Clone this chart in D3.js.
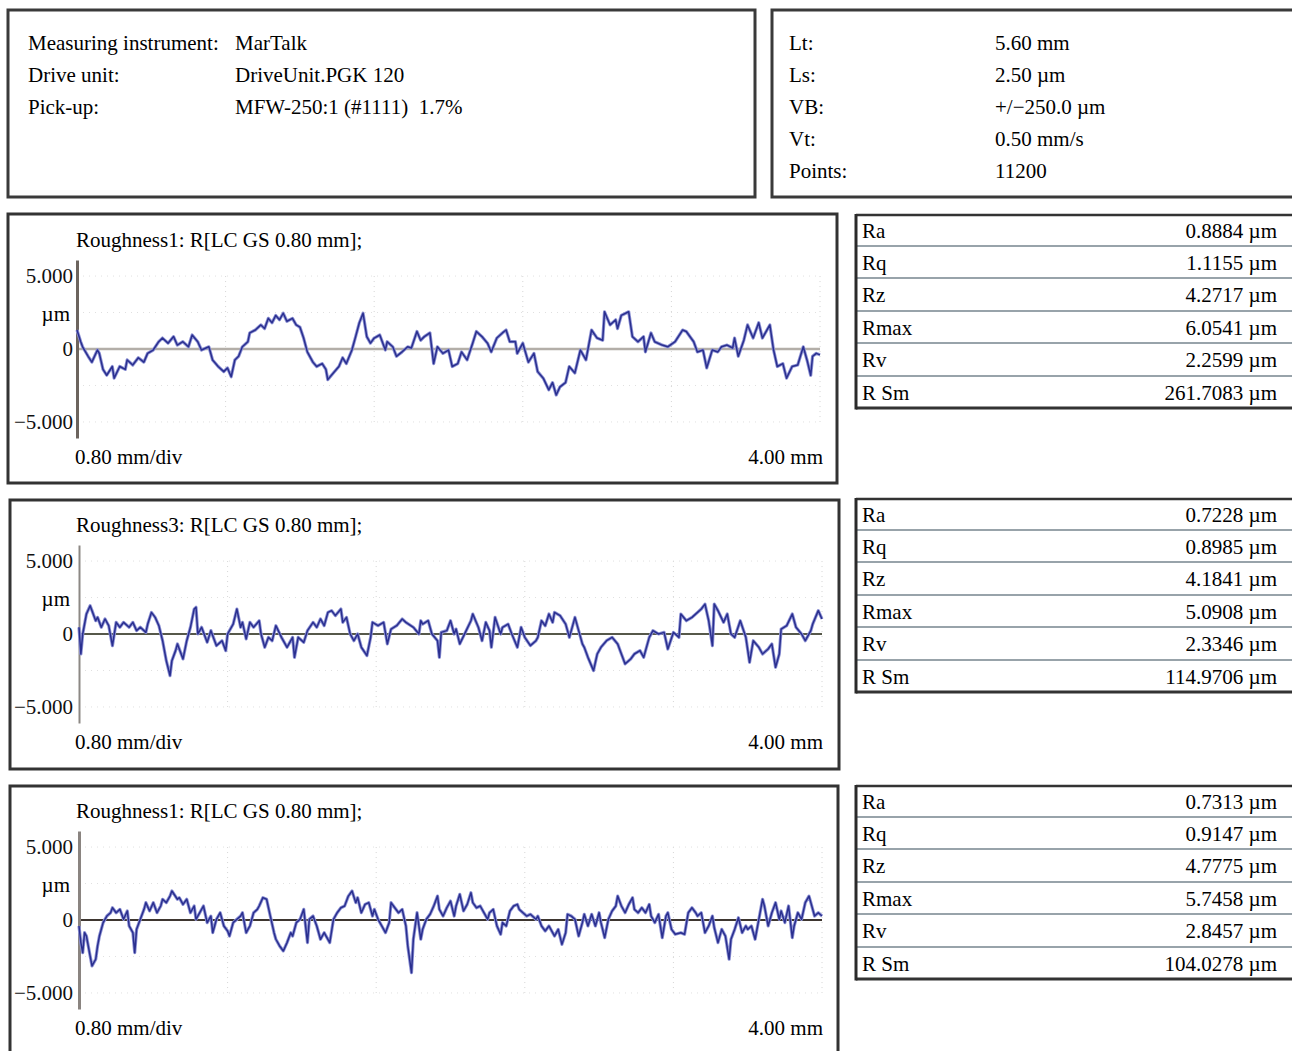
<!DOCTYPE html>
<html>
<head>
<meta charset="utf-8">
<script src="https://cdn.jsdelivr.net/npm/d3@7"></script>
<style>
    body { margin: 0; background: #fff; }
    svg { display: block; font-family: "Liberation Serif", "Times New Roman", serif; }
    text { white-space: pre; }
</style>
</head>
<body>
<svg id="drawing_region"></svg>
<script>
// header info
const instrumentLabels = ['Measuring instrument:', 'Drive unit:', 'Pick-up:'];
const instrumentValues = ['MarTalk', 'DriveUnit.PGK 120', 'MFW-250:1 (#1111)  1.7%'];
const scanLabels = ['Lt:', 'Ls:', 'VB:', 'Vt:', 'Points:'];
const scanValues = ['5.60 mm', '2.50 µm', '+/\u2212250.0 µm', '0.50 mm/s', '11200'];

// profile charts
const profileTitles = ['Roughness1: R[LC GS 0.80 mm];', 'Roughness3: R[LC GS 0.80 mm];', 'Roughness1: R[LC GS 0.80 mm];'];
const yTickValues = [5, 0, -5];
const yTickLabels = ['5.000', '0', '\u22125.000'];
const xDivisions = [0.8, 1.6, 2.4, 3.2, 4.0];
const gridLevels = [5, 2.5, -2.5, -5];

// parameter tables
const paramLabels = ['Ra', 'Rq', 'Rz', 'Rmax', 'Rv', 'R Sm'];
const paramValues1 = ['0.8884', '1.1155', '4.2717', '6.0541', '2.2599', '261.7083'];
const paramValues2 = ['0.7228', '0.8985', '4.1841', '5.0908', '2.3346', '114.9706'];
const paramValues3 = ['0.7313', '0.9147', '4.7775', '5.7458', '2.8457', '104.0278'];

// profiles: [x in mm, height in µm]
const profile1 = [[0.00,1.3],[0.02,0.5],[0.03,0.15],[0.06,-0.5],[0.08,-0.9],[0.11,-0.07],[0.12,-0.3],[0.14,-1.4],[0.16,-1.8],[0.19,-1.2],[0.20,-2.0],[0.23,-1.2],[0.26,-1.4],[0.27,-0.75],[0.30,-1.1],[0.33,-0.6],[0.36,-0.9],[0.38,-0.3],[0.41,-0.07],[0.44,0.5],[0.46,0.75],[0.49,0.4],[0.52,0.85],[0.54,0.27],[0.57,0.5],[0.60,0.15],[0.62,0.96],[0.65,0.5],[0.67,-0.07],[0.71,0.15],[0.73,-0.75],[0.76,-1.2],[0.79,-1.55],[0.81,-1.3],[0.83,-1.9],[0.85,-0.75],[0.87,-0.5],[0.89,0.15],[0.92,0.5],[0.93,1.1],[0.96,1.3],[0.99,1.65],[1.01,1.4],[1.03,2.1],[1.05,1.8],[1.07,2.3],[1.09,2.0],[1.11,2.45],[1.13,1.9],[1.16,2.1],[1.18,1.65],[1.20,1.5],[1.22,0.75],[1.24,-0.2],[1.27,-0.9],[1.29,-1.2],[1.32,-1.0],[1.34,-1.4],[1.35,-2.1],[1.38,-1.65],[1.41,-1.2],[1.43,-0.6],[1.45,-1.0],[1.48,-0.07],[1.50,0.85],[1.52,1.8],[1.54,2.45],[1.56,0.85],[1.58,0.4],[1.60,0.75],[1.63,0.96],[1.66,-0.07],[1.67,0.5],[1.70,0.15],[1.72,-0.5],[1.75,-0.2],[1.78,0.15],[1.80,0.07],[1.83,1.2],[1.85,0.6],[1.87,0.85],[1.90,1.1],[1.92,-1.0],[1.94,0.15],[1.97,-0.3],[2.00,-0.07],[2.02,-1.2],[2.05,-1.0],[2.07,-0.2],[2.10,-0.75],[2.13,0.4],[2.15,1.2],[2.18,0.85],[2.21,0.4],[2.23,-0.2],[2.26,0.75],[2.29,1.1],[2.31,1.3],[2.33,0.5],[2.36,0.5],[2.37,-0.3],[2.40,0.4],[2.43,-0.9],[2.46,-0.3],[2.48,-1.55],[2.51,-2.0],[2.54,-2.8],[2.56,-2.3],[2.58,-3.15],[2.60,-2.6],[2.63,-2.3],[2.65,-1.2],[2.68,-1.65],[2.71,-0.07],[2.74,-0.75],[2.75,-0.07],[2.77,1.3],[2.80,0.75],[2.83,0.6],[2.84,2.55],[2.87,1.65],[2.90,2.0],[2.91,1.4],[2.93,2.3],[2.97,2.55],[2.99,0.85],[3.02,0.5],[3.05,0.85],[3.06,-0.2],[3.09,1.1],[3.11,0.5],[3.15,0.27],[3.18,0.15],[3.22,0.5],[3.26,1.3],[3.28,1.2],[3.32,0.5],[3.34,-0.2],[3.37,-0.07],[3.39,-1.3],[3.42,-0.07],[3.45,-0.2],[3.47,0.15],[3.50,0.27],[3.53,0.07],[3.54,0.75],[3.56,-0.5],[3.59,0.6],[3.61,1.65],[3.64,0.75],[3.67,1.8],[3.69,0.75],[3.73,1.65],[3.75,-0.07],[3.77,-1.2],[3.80,-1.0],[3.82,-2.0],[3.85,-1.2],[3.88,-1.1],[3.91,0.15],[3.93,-0.75],[3.95,-1.8],[3.96,-0.5],[3.98,-0.3],[4.00,-0.4]];

const profile2 = [[0.00,0.46],[0.01,-1.37],[0.02,0],[0.04,1.37],[0.06,1.94],[0.07,1.6],[0.09,0.91],[0.10,1.14],[0.12,0.46],[0.14,1.03],[0.16,0.57],[0.18,-0.8],[0.20,0.8],[0.22,0.46],[0.24,0.8],[0.27,0.46],[0.29,0.8],[0.31,0.23],[0.33,0.46],[0.36,0.11],[0.37,0.68],[0.39,1.48],[0.41,1.14],[0.43,0.57],[0.45,-0.46],[0.47,-1.83],[0.49,-2.85],[0.50,-1.83],[0.52,-1.14],[0.53,-0.68],[0.56,-1.71],[0.58,-0.46],[0.60,0.46],[0.62,1.71],[0.63,1.83],[0.64,0],[0.66,0.46],[0.69,-0.57],[0.71,0.23],[0.74,-0.8],[0.77,-0.46],[0.79,-1.14],[0.80,0],[0.83,0.68],[0.85,1.71],[0.87,0.46],[0.88,0.8],[0.90,-0.34],[0.92,0.8],[0.94,0.46],[0.97,0.91],[0.98,0],[1.00,-0.91],[1.02,-0.23],[1.04,-0.46],[1.06,0.57],[1.09,-0.23],[1.12,-0.91],[1.15,-0.23],[1.16,-1.6],[1.18,-0.23],[1.21,-0.57],[1.23,0.23],[1.26,0.8],[1.28,0.46],[1.30,1.03],[1.32,0.57],[1.34,1.48],[1.36,1.6],[1.38,1.26],[1.41,1.71],[1.42,0.8],[1.44,1.14],[1.46,0],[1.48,-0.46],[1.50,0],[1.52,-0.91],[1.55,-1.48],[1.57,-0.23],[1.58,0.8],[1.61,0.57],[1.64,0.8],[1.66,-0.68],[1.68,0.34],[1.71,0.57],[1.74,1.03],[1.76,0.8],[1.80,0.46],[1.83,0],[1.84,0.91],[1.85,0.68],[1.88,0.91],[1.90,0],[1.93,-0.46],[1.94,-1.6],[1.95,0.11],[1.98,0.23],[2.00,0.91],[2.02,0],[2.03,0.34],[2.05,-0.68],[2.08,0.11],[2.11,0.91],[2.12,1.37],[2.15,0.46],[2.17,-0.46],[2.19,0.8],[2.21,0.23],[2.22,-0.91],[2.24,1.14],[2.27,0],[2.28,0.46],[2.31,0.68],[2.33,0],[2.36,-0.91],[2.38,0.46],[2.40,-0.23],[2.43,-0.8],[2.46,-0.46],[2.47,-0.23],[2.49,0.91],[2.51,0.57],[2.53,1.37],[2.55,0.8],[2.56,1.48],[2.59,1.26],[2.62,0.68],[2.64,-0.23],[2.67,1.14],[2.69,0.23],[2.71,-0.68],[2.72,-0.91],[2.74,-1.6],[2.77,-2.51],[2.79,-1.37],[2.81,-0.91],[2.84,-0.46],[2.87,-0.23],[2.90,-0.68],[2.92,-1.37],[2.94,-2.05],[2.97,-1.71],[2.99,-1.37],[3.02,-1.14],[3.04,-1.6],[3.07,-0.23],[3.09,0.23],[3.12,0],[3.15,0.11],[3.17,-1.03],[3.20,0.11],[3.23,-0.23],[3.24,1.37],[3.27,0.91],[3.30,1.14],[3.33,1.48],[3.35,1.71],[3.37,2.05],[3.39,0.91],[3.41,-0.8],[3.42,2.05],[3.44,1.6],[3.47,0.8],[3.49,1.37],[3.51,0],[3.53,-0.23],[3.56,0.91],[3.59,-0.23],[3.61,-1.94],[3.63,-0.46],[3.66,-0.91],[3.68,-1.37],[3.71,-1.03],[3.73,-0.68],[3.75,-2.28],[3.77,-1.37],[3.78,0.34],[3.81,0.57],[3.84,1.37],[3.86,0.46],[3.89,0],[3.91,-0.46],[3.94,0.23],[3.95,0.68],[3.98,1.6],[4.00,1.03]];

const profile3 = [[0.00,-0.41],[0.01,-1.55],[0.02,-2.24],[0.03,-0.87],[0.04,-1.1],[0.06,-2.47],[0.07,-3.15],[0.09,-2.69],[0.10,-1.78],[0.11,-1.1],[0.13,-0.18],[0.15,0.27],[0.17,0.5],[0.18,0.84],[0.20,0.5],[0.22,0.73],[0.24,0.05],[0.26,0.62],[0.27,-0.41],[0.29,-0.87],[0.30,-2.24],[0.31,-0.64],[0.33,0.05],[0.35,0.73],[0.36,1.19],[0.38,0.62],[0.40,1.19],[0.42,0.5],[0.44,0.96],[0.45,1.42],[0.47,1.19],[0.49,1.64],[0.50,1.99],[0.53,1.42],[0.54,1.53],[0.56,1.07],[0.58,1.42],[0.60,0.5],[0.62,0.96],[0.63,0.05],[0.65,0.5],[0.67,0.96],[0.69,-0.18],[0.71,0.27],[0.72,-0.87],[0.74,0.05],[0.76,0.5],[0.78,-0.41],[0.80,-0.75],[0.81,-1.1],[0.83,-0.18],[0.85,0.05],[0.87,0.27],[0.88,0.5],[0.90,-0.87],[0.92,-0.41],[0.94,0.5],[0.96,0.73],[0.97,0.96],[0.99,1.53],[1.01,1.42],[1.03,0.27],[1.05,-0.87],[1.06,-1.32],[1.08,-1.78],[1.10,-2.12],[1.12,-1.55],[1.14,-0.87],[1.15,-1.1],[1.17,-0.18],[1.19,0.05],[1.21,0.73],[1.23,-1.55],[1.24,0.05],[1.26,0.27],[1.28,-0.41],[1.30,-1.32],[1.32,-0.87],[1.33,-1.1],[1.35,-1.55],[1.37,0.05],[1.39,0.5],[1.41,0.84],[1.43,0.96],[1.45,1.64],[1.47,1.99],[1.49,1.19],[1.50,1.53],[1.52,0.5],[1.54,1.07],[1.56,1.19],[1.58,0.27],[1.59,0.73],[1.61,0.05],[1.63,-0.41],[1.65,-0.87],[1.67,-0.18],[1.68,1.19],[1.70,0.84],[1.72,0.5],[1.74,0.73],[1.76,-0.41],[1.77,-1.78],[1.79,-3.61],[1.80,-1.32],[1.82,0.5],[1.84,-1.32],[1.85,-0.64],[1.87,0.05],[1.89,0.39],[1.91,0.96],[1.93,1.64],[1.94,0.73],[1.96,0.27],[1.98,0.84],[2.00,1.3],[2.02,0.27],[2.03,0.96],[2.05,1.76],[2.07,0.62],[2.09,1.07],[2.11,1.87],[2.12,1.19],[2.14,0.84],[2.16,0.96],[2.18,0.5],[2.20,0.05],[2.21,0.5],[2.23,0.73],[2.25,-0.41],[2.27,-0.98],[2.28,-0.18],[2.30,-0.41],[2.32,0.62],[2.34,0.96],[2.36,1.07],[2.37,0.73],[2.39,0.5],[2.41,0.27],[2.43,0.39],[2.46,0.05],[2.47,0.27],[2.49,-0.41],[2.51,-0.75],[2.53,-0.41],[2.55,-0.87],[2.56,-1.1],[2.58,-0.64],[2.60,-1.67],[2.62,-0.87],[2.63,0.39],[2.65,0.27],[2.67,0.05],[2.69,-1.1],[2.71,-0.18],[2.72,0.39],[2.74,-0.41],[2.76,0.39],[2.78,-0.41],[2.80,0.5],[2.81,-0.18],[2.83,-1.21],[2.85,0.05],[2.87,0.62],[2.89,0.96],[2.90,1.64],[2.92,0.96],[2.94,0.5],[2.96,1.07],[2.98,1.53],[2.99,0.73],[3.01,0.5],[3.03,0.84],[3.05,0.5],[3.07,1.07],[3.08,0.27],[3.10,-0.18],[3.12,0.39],[3.14,-1.21],[3.16,0.27],[3.17,0.5],[3.19,-0.64],[3.21,-0.98],[3.24,-0.87],[3.26,-0.98],[3.28,0.5],[3.30,0.84],[3.32,0.5],[3.33,0.27],[3.35,0.5],[3.37,-0.87],[3.39,-0.41],[3.41,0.27],[3.42,-0.53],[3.44,-1.55],[3.46,-0.64],[3.48,-1.1],[3.50,-2.69],[3.51,-1.32],[3.53,-0.64],[3.55,0.16],[3.57,-0.87],[3.59,-0.41],[3.60,-0.64],[3.62,-0.41],[3.64,-1.32],[3.66,0.05],[3.68,1.42],[3.69,0.96],[3.71,-0.41],[3.73,0.5],[3.75,1.19],[3.77,0.05],[3.78,0.62],[3.80,-0.18],[3.82,0.96],[3.84,-1.21],[3.85,-0.41],[3.87,0.5],[3.89,0.05],[3.91,1.19],[3.93,1.64],[3.94,1.19],[3.96,0.27],[3.98,0.5],[4.00,0.27]];

const svg = d3.select('#drawing_region')
    .attr('width', 1292)
    .attr('height', 1051);

const FONT = 21;

// info boxes at the top
function infoBox(x, y, w, h, labels, values, labelX, valueX) {
    const g = svg.append('g');
    g.append('rect')
        .attr('x', x).attr('y', y).attr('width', w).attr('height', h)
        .attr('fill', 'none')
        .attr('stroke', '#3a3a3a')
        .attr('stroke-width', 3);
    const rows = g.selectAll('g.row')
        .data(labels)
        .enter()
        .append('g')
        .attr('transform', (d, i) => `translate(0, ${y + 40 + i * 32})`);
    rows.append('text')
        .attr('x', labelX)
        .attr('font-size', FONT)
        .text(d => d);
    rows.append('text')
        .attr('x', valueX)
        .attr('font-size', FONT)
        .text((d, i) => values[i]);
}

infoBox(8, 10, 747, 187, instrumentLabels, instrumentValues, 28, 235);
infoBox(772, 10, 540, 187, scanLabels, scanValues, 789, 995);

class ProfileChart {
    constructor(config, data) {
        this.config = config;
        this.data = data;
        this.init();
    }

    init() {
        let self = this;
        const c = self.config;

        self.g = svg.append('g');

        self.xscale = d3.scaleLinear()
            .domain([0, 4])
            .range([c.x0, c.x0 + 743]);

        self.yscale = d3.scaleLinear()
            .domain([-6.1, 6.1])
            .range([c.zeroY + 89, c.zeroY - 89]);

        // tick labels end at a fixed x, whatever the axis position
        self.yaxis = d3.axisLeft(self.yscale)
            .tickValues(yTickValues)
            .tickFormat((d, i) => yTickLabels[i])
            .tickSize(0)
            .tickPadding(c.x0 - 73)
            .tickSizeOuter(0);

        self.line = d3.line()
            .x(d => self.xscale(d[0]))
            .y(d => self.yscale(d[1]));
    }

    render() {
        let self = this;
        const c = self.config;

        // frame
        self.g.append('rect')
            .attr('x', c.box[0]).attr('y', c.box[1])
            .attr('width', c.box[2]).attr('height', c.box[3])
            .attr('fill', 'none')
            .attr('stroke', '#333')
            .attr('stroke-width', 3);

        // faint dotted grid
        self.g.selectAll('line.vgrid')
            .data(xDivisions)
            .enter()
            .append('line')
            .attr('x1', d => self.xscale(d)).attr('x2', d => self.xscale(d))
            .attr('y1', self.yscale(5)).attr('y2', self.yscale(-5))
            .attr('stroke', '#d4d4d4')
            .attr('stroke-dasharray', '1 4');

        self.g.selectAll('line.hgrid')
            .data(gridLevels)
            .enter()
            .append('line')
            .attr('x1', self.xscale(0)).attr('x2', self.xscale(4))
            .attr('y1', d => self.yscale(d)).attr('y2', d => self.yscale(d))
            .attr('stroke', '#e0e0e0')
            .attr('stroke-dasharray', '1 5');

        // zero line
        self.g.append('line')
            .attr('x1', self.xscale(0)).attr('x2', self.xscale(4))
            .attr('y1', self.yscale(0)).attr('y2', self.yscale(0))
            .attr('stroke', c.zeroColor)
            .attr('stroke-width', c.zeroWidth);

        // y axis
        const ax = self.g.append('g')
            .attr('transform', `translate(${c.x0}, 0)`)
            .call(self.yaxis)
            .attr('font-family', null)
            .attr('font-size', FONT);
        ax.select('.domain')
            .attr('stroke', c.axisColor)
            .attr('stroke-width', c.axisWidth);
        ax.selectAll('text').attr('fill', '#111');

        self.g.append('text')
            .attr('x', 70)
            .attr('y', self.yscale(2.4))
            .attr('dy', '0.32em')
            .attr('text-anchor', 'end')
            .attr('font-size', FONT)
            .text('µm');

        // profile trace: soft halo and darker core
        self.g.append('path')
            .attr('d', self.line(self.data))
            .attr('fill', 'none')
            .attr('stroke', '#8d92d4')
            .attr('stroke-width', 3.2)
            .attr('stroke-linejoin', 'round');
        self.g.append('path')
            .attr('d', self.line(self.data))
            .attr('fill', 'none')
            .attr('stroke', '#2a2f8f')
            .attr('stroke-width', 1.5)
            .attr('stroke-linejoin', 'round');

        // texts
        self.g.append('text')
            .attr('x', 76)
            .attr('y', c.zeroY - 102)
            .attr('font-size', FONT)
            .text(c.title);

        self.g.append('text')
            .attr('x', 75)
            .attr('y', c.zeroY + 115)
            .attr('font-size', FONT)
            .text('0.80 mm/div');

        self.g.append('text')
            .attr('x', 823)
            .attr('y', c.zeroY + 115)
            .attr('text-anchor', 'end')
            .attr('font-size', FONT)
            .text('4.00 mm');
    }
}

class ParamTable {
    constructor(top, values) {
        this.top = top;
        this.values = values;
    }

    render() {
        let self = this;
        const left = 856, right = 1300;
        const bounds = [0, 31, 63, 96, 128, 161, 193].map(d => self.top + d);
        const g = svg.append('g');

        // separators
        g.selectAll('line.sep')
            .data(bounds.slice(1, -1))
            .enter()
            .append('line')
            .attr('x1', left).attr('x2', right)
            .attr('y1', d => d).attr('y2', d => d)
            .attr('stroke', '#98a3aa')
            .attr('stroke-width', 2);

        g.append('line')
            .attr('x1', left).attr('x2', right)
            .attr('y1', bounds[0]).attr('y2', bounds[0])
            .attr('stroke', '#333').attr('stroke-width', 2.5);
        g.append('line')
            .attr('x1', left).attr('x2', right)
            .attr('y1', bounds[6]).attr('y2', bounds[6])
            .attr('stroke', '#333').attr('stroke-width', 3);
        g.append('line')
            .attr('x1', left).attr('x2', left)
            .attr('y1', bounds[0] - 1).attr('y2', bounds[6] + 1.5)
            .attr('stroke', '#2a2a2a').attr('stroke-width', 3);

        const rows = g.selectAll('g.row')
            .data(paramLabels)
            .enter()
            .append('g')
            .attr('transform', (d, i) => `translate(0, ${(bounds[i] + bounds[i + 1]) / 2 + 1})`);
        rows.append('text')
            .attr('x', 862)
            .attr('dy', '0.33em')
            .attr('font-size', FONT)
            .text(d => d);
        rows.append('text')
            .attr('x', 1277)
            .attr('dy', '0.33em')
            .attr('text-anchor', 'end')
            .attr('font-size', FONT)
            .text((d, i) => self.values[i] + ' µm');
    }
}

const charts = [
    { box: [8, 214, 829, 269], x0: 77, zeroY: 349, title: profileTitles[0], zeroColor: '#b3aea8', zeroWidth: 2.5, axisColor: '#6c645e', axisWidth: 3 },
    { box: [10, 500, 829, 269], x0: 79, zeroY: 634, title: profileTitles[1], zeroColor: '#56584a', zeroWidth: 2, axisColor: '#8c8884', axisWidth: 2 },
    { box: [10, 786, 828, 290], x0: 79, zeroY: 920, title: profileTitles[2], zeroColor: '#3e3630', zeroWidth: 2, axisColor: '#8a8480', axisWidth: 3 }
];
const profiles = [profile1, profile2, profile3];

charts.forEach((c, i) => {
    let chart = new ProfileChart(c, profiles[i]);
    chart.render();
});

new ParamTable(215, paramValues1).render();
new ParamTable(499, paramValues2).render();
new ParamTable(786, paramValues3).render();
</script>
</body>
</html>
